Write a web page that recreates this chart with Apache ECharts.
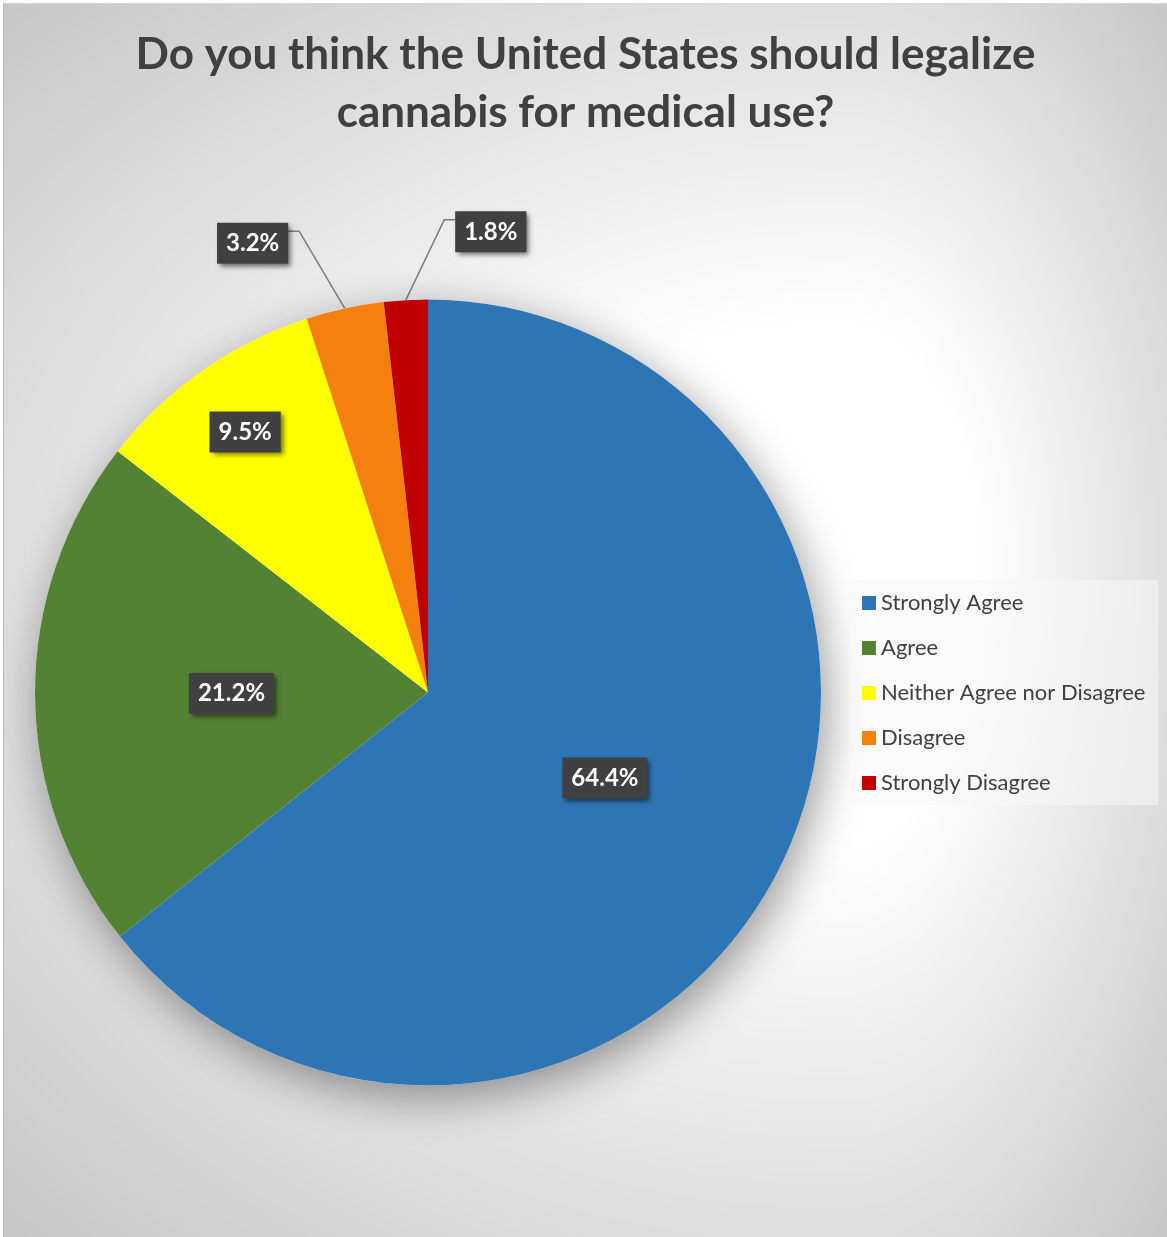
<!DOCTYPE html>
<html>
<head>
<meta charset="utf-8">
<script src="https://cdn.jsdelivr.net/npm/echarts@6/dist/echarts.min.js"></script>
<style>
  html, body { margin: 0; padding: 0; background: #ffffff; }
  #frame {
    position: absolute; left: 3px; top: 3px; width: 1164px; height: 1234px;
    box-sizing: border-box; border-left: 1px solid #b8b8b8; border-top: 1px solid #d4d4d4;
  }
  #chart { width: 1163px; height: 1233px; }
</style>
</head>
<body>
<div id="frame"><div id="chart"></div></div>
<script>
// Survey answers and their shares (percent of respondents)
const categories = [
  'Strongly Agree',
  'Agree',
  'Neither Agree nor Disagree',
  'Disagree',
  'Strongly Disagree'
];
const shares = [64.4, 21.2, 9.5, 3.2, 1.8];
const titleLines = [
  'Do you think the United States should legalize',
  'cannabis for medical use?'
];

// Styling
const sliceColors = ['#2E75B6', '#548235', '#FFFF00', '#F4800F', '#C00000'];
const textDark = '#404040';
const W = 1163, H = 1233;
const PIE = { cx: 424, cy: 688.5, r: 393 };

// Where each value box sits: distance from the centre as a share of the radius,
// plus an extra swing (degrees) away from the slice's middle for the small slices.
const calloutRadius = [0.5, 0.5, 0.81, 1.227, 1.183];
const calloutSwing = [0, 0, 0, 9.1, -11];
const withLeader = [false, false, false, true, true];

// Soft grey backdrop, brightest slightly right of centre and darkening toward every edge
function paintBackdrop() {
  const c = document.createElement('canvas');
  c.width = W; c.height = H;
  const ctx = c.getContext('2d');
  const img = ctx.createImageData(W, H);
  const gx = 836, gy = 556;
  for (let y = 0; y < H; y++) {
    const hy = y < gy ? gy : H - gy;
    const ny = (y - gy) / hy;
    for (let x = 0; x < W; x++) {
      const hx = x < gx ? gx : W - gx;
      const nx = (x - gx) / hx;
      const v = Math.sqrt(nx * nx + ny * ny) / Math.SQRT2;
      let g = 255 - 81 * Math.max(0, v - 0.3);
      if (g < 196) g = 196;
      const k = (y * W + x) * 4;
      img.data[k] = img.data[k + 1] = img.data[k + 2] = g;
      img.data[k + 3] = 255;
    }
  }
  ctx.putImageData(img, 0, 0);
  document.getElementById('chart').style.background = 'url(' + c.toDataURL() + ')';
}
paintBackdrop();

// Middle angle of every slice (degrees, counter-clockwise from 3 o'clock),
// slices running clockwise from 12 o'clock
const total = shares.reduce((a, b) => a + b, 0);
const midAngles = [];
(function () {
  let acc = 0;
  shares.forEach(s => {
    midAngles.push(90 - (acc + s / 2) / total * 360);
    acc += s;
  });
})();

const pieData = categories.map((name, i) => ({
  name: name,
  value: shares[i],
  label: { position: withLeader[i] ? 'outside' : 'inside' },
  labelLine: { show: withLeader[i] }
}));

const chart = echarts.init(document.getElementById('chart'), null, { renderer: 'canvas' });

chart.setOption({
  animation: false,
  backgroundColor: 'transparent',
  color: sliceColors,
  title: {
    text: titleLines.join('\n'),
    left: 'center',
    top: 22,
    padding: 0,
    textStyle: {
      fontFamily: 'Lato',
      fontWeight: 'bold',
      fontSize: 44,
      lineHeight: 58,
      color: textDark
    }
  },
  legend: {
    orient: 'vertical',
    left: 846,
    top: 576,
    data: categories,
    icon: 'rect',
    itemWidth: 14,
    itemHeight: 14,
    itemGap: 21,
    selectedMode: false,
    backgroundColor: 'rgba(246,246,246,0.6)',
    padding: [11, 13, 10, 12],
    textStyle: {
      fontFamily: 'Lato',
      fontSize: 22,
      lineHeight: 24,
      color: textDark
    }
  },
  series: [
    {
      // plain disc underneath that only casts the soft drop shadow
      type: 'pie',
      silent: true,
      center: [PIE.cx, PIE.cy],
      radius: PIE.r,
      label: { show: false },
      labelLine: { show: false },
      emphasis: { disabled: true },
      itemStyle: {
        color: '#ffffff',
        shadowBlur: 45,
        shadowColor: 'rgba(0,0,0,0.4)',
        shadowOffsetX: 6,
        shadowOffsetY: 12
      },
      data: [{ value: 1, name: 'disc' }]
    },
    {
      type: 'pie',
      silent: true,
      center: [PIE.cx, PIE.cy],
      radius: PIE.r,
      startAngle: 90,
      clockwise: true,
      avoidLabelOverlap: false,
      emphasis: { disabled: true },
      itemStyle: { borderWidth: 0 },
      label: {
        show: true,
        formatter: p => p.value.toFixed(1) + '%',
        fontFamily: 'Lato',
        fontWeight: 'bold',
        fontSize: 24,
        lineHeight: 24,
        color: '#ffffff',
        backgroundColor: '#404040',
        padding: [9, 9, 8, 9],
        shadowColor: 'rgba(0,0,0,0.55)',
        shadowBlur: 5,
        shadowOffsetX: 3,
        shadowOffsetY: 3
      },
      labelLine: {
        show: false,
        smooth: false,
        lineStyle: { color: '#7f7f7f', width: 1.5 }
      },
      labelLayout: function (params) {
        const i = params.dataIndex;
        const a = (midAngles[i] + calloutSwing[i]) * Math.PI / 180;
        const d = PIE.r * calloutRadius[i];
        const x = PIE.cx + d * Math.cos(a);
        const y = PIE.cy - d * Math.sin(a);
        const out = { x: x, y: y, align: 'center', verticalAlign: 'middle' };
        if (withLeader[i]) {
          const m = midAngles[i] * Math.PI / 180;
          const sx = PIE.cx + PIE.r * Math.cos(m);
          const sy = PIE.cy - PIE.r * Math.sin(m);
          const half = params.labelRect.width / 2;
          const side = x < sx ? 1 : -1;
          const ex = x + side * half;
          const ey = y - 12;
          out.labelLinePoints = [[sx, sy], [ex + side * 11, ey], [ex, ey]];
        }
        return out;
      },
      data: pieData
    }
  ]
});
</script>
</body>
</html>
